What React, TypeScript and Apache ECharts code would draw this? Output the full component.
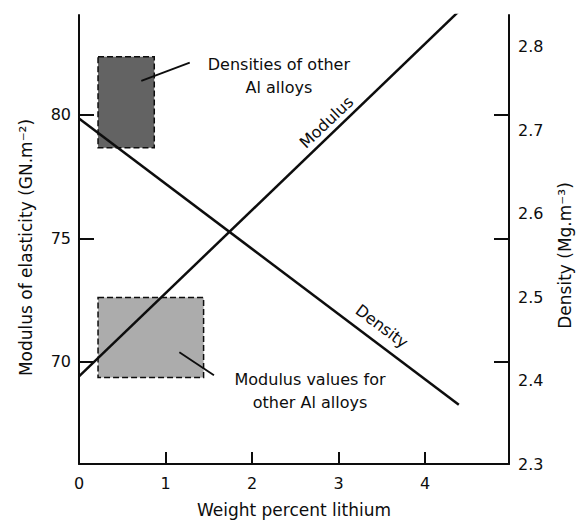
import React, { useEffect, useRef } from "react";
import * as echarts from "echarts";

// Lines (end points)
const lithium = [0, 4.39];
const modulus = [69.4, 84.2];
const density = [2.714, 2.371];

// Axis ticks / labels
const xTickLabels = [0, 1, 2, 3, 4];
const modulusTicks = [70, 75, 80];
const densityTicks = [2.3, 2.4, 2.5, 2.6, 2.7, 2.8];

// Shaded ranges of other Al alloys
const densityBoxLi = [0.22, 0.87];
const densityBoxRange = [2.679, 2.788];
const modulusBoxLi = [0.22, 1.44];
const modulusBoxRange = [69.36, 72.6];

// Annotation anchors (data coordinates)
const densityNote = { x: 2.31, y: 2.765, text: "Densities of other\nAl alloys" };
const densityPointer = [[1.28, 2.781], [0.72, 2.759]];
const modulusNote = { x: 2.67, y: 68.8, text: "Modulus values for\nother Al alloys" };
const modulusPointer = [[1.56, 69.45], [1.16, 70.38]];
const modulusTag = { x: 2.86, y: 79.7, text: "Modulus" };
const densityTag = { x: 3.5, y: 2.465, text: "Density" };

const FONT = "'DejaVu Sans', 'Noto Sans', sans-serif";
const INK = "#0d0d0d";

export default function App() {
  const ref = useRef<HTMLDivElement>(null);
  useEffect(() => {
    if (!ref.current) return;
    const chart = echarts.init(ref.current, undefined, { renderer: "svg" });
    const modMin = 65.85;
    const modMax = 84.05;
    const axisLine = { show: true, lineStyle: { color: INK, width: 2 } };
    const note = (n: { x: number; y: number; text: string }, size: number, rotate = 0) => ({
      coord: [n.x, n.y],
      symbol: "circle",
      symbolSize: 0,
      label: {
        show: true,
        position: "inside",
        formatter: n.text,
        rotate,
        color: INK,
        fontSize: size,
        fontFamily: FONT,
        lineHeight: 23,
        align: "center",
      },
    });
    const pointer = (p: number[][]) => [
      { coord: p[0], symbol: "none" },
      { coord: p[1], symbol: "none" },
    ];
    chart.setOption({
      animation: false,
      backgroundColor: "#ffffff",
      textStyle: { fontFamily: FONT },
      grid: { left: 79, right: 68, top: 15, bottom: 59, containLabel: false },
      xAxis: {
        type: "value",
        min: 0,
        max: 4.97,
        axisLine,
        splitLine: { show: false },
        axisTick: { show: true, inside: true, length: 12, lineStyle: { color: INK, width: 2 }, customValues: [1, 2, 3, 4] },
        axisLabel: { customValues: xTickLabels, color: INK, fontSize: 16, margin: 11, fontFamily: FONT },
        name: "Weight percent lithium",
        nameLocation: "middle",
        nameGap: 37,
        nameTextStyle: { color: INK, fontSize: 17, fontFamily: FONT },
      },
      yAxis: [
        {
          type: "value",
          position: "left",
          min: modMin,
          max: modMax,
          axisLine,
          splitLine: { show: false },
          axisTick: { show: true, inside: true, length: 15, lineStyle: { color: INK, width: 2 }, customValues: modulusTicks },
          axisLabel: { customValues: modulusTicks, color: INK, fontSize: 16, margin: 8, fontFamily: FONT },
          name: "Modulus of elasticity (GN.m\u207B\u00B2)",
          nameLocation: "middle",
          nameRotate: 90,
          nameGap: 45,
          nameTextStyle: { color: INK, fontSize: 17, fontFamily: FONT, padding: [0, 16, 0, 0] },
        },
        {
          type: "value",
          position: "right",
          min: 2.3,
          max: 2.838,
          axisLine,
          splitLine: { show: false },
          axisTick: { show: false },
          axisLabel: {
            customValues: densityTicks,
            color: INK,
            fontSize: 16,
            margin: 9,
            fontFamily: FONT,
            formatter: (v: number) => v.toFixed(1),
          },
          name: "Density (Mg.m\u207B\u00B3)",
          nameLocation: "middle",
          nameRotate: 90,
          nameGap: 47,
          nameTextStyle: { color: INK, fontSize: 17, fontFamily: FONT, padding: [0, 32, 0, 0] },
        },
        {
          type: "value",
          position: "right",
          min: modMin,
          max: modMax,
          axisLine: { show: false },
          splitLine: { show: false },
          axisTick: { show: true, inside: true, length: 15, lineStyle: { color: INK, width: 2 }, customValues: modulusTicks },
          axisLabel: { show: false },
        },
      ],
      series: [
        {
          name: "Modulus",
          type: "line",
          yAxisIndex: 0,
          showSymbol: false,
          silent: true,
          data: lithium.map((x, i) => [x, modulus[i]]),
          lineStyle: { color: INK, width: 2.5 },
          markArea: {
            silent: true,
            itemStyle: { color: "rgba(90,90,90,0.5)", borderColor: INK, borderWidth: 1.5, borderType: "dashed" },
            data: [[{ coord: [modulusBoxLi[0], modulusBoxRange[1]] }, { coord: [modulusBoxLi[1], modulusBoxRange[0]] }]],
          },
          markLine: {
            silent: true,
            symbol: "none",
            label: { show: false },
            lineStyle: { color: INK, width: 1.8, type: "solid" },
            data: [pointer(modulusPointer)],
          },
          markPoint: {
            silent: true,
            data: [note(modulusNote, 16), note(modulusTag, 16, 43.5)],
          },
        },
        {
          name: "Density",
          type: "line",
          yAxisIndex: 1,
          showSymbol: false,
          silent: true,
          data: lithium.map((x, i) => [x, density[i]]),
          lineStyle: { color: INK, width: 2.5 },
          markArea: {
            silent: true,
            itemStyle: { color: "rgba(55,55,55,0.78)", borderColor: INK, borderWidth: 1.5, borderType: "dashed" },
            data: [[{ coord: [densityBoxLi[0], densityBoxRange[1]] }, { coord: [densityBoxLi[1], densityBoxRange[0]] }]],
          },
          markLine: {
            silent: true,
            symbol: "none",
            label: { show: false },
            lineStyle: { color: INK, width: 1.8, type: "solid" },
            data: [pointer(densityPointer)],
          },
          markPoint: {
            silent: true,
            data: [note(densityNote, 16), note(densityTag, 16, -36.7)],
          },
        },
      ],
    });
    return () => chart.dispose();
  }, []);
  return <div ref={ref} style={{ position: "fixed", left: 0, top: 0, width: 581, height: 523 }} />;
}
